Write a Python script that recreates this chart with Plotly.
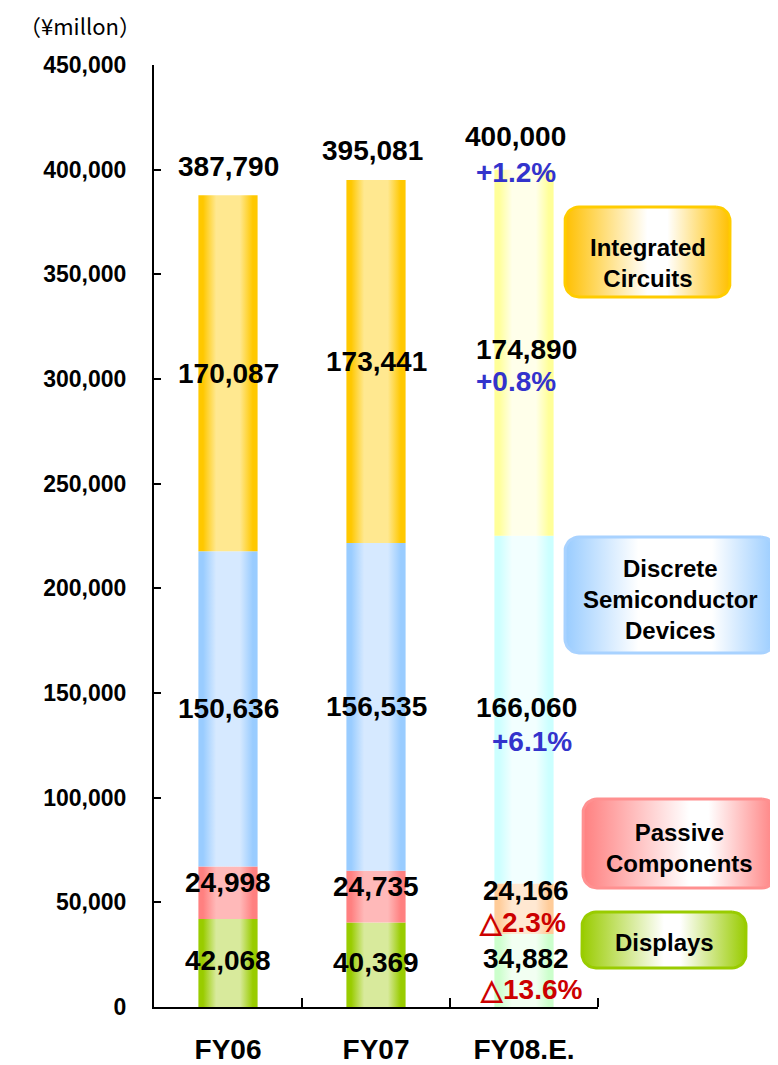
import numpy as np
import plotly.graph_objects as go

categories = ["FY06", "FY07", "FY08.E."]
segments = ["Displays", "Passive Components", "Discrete Semiconductor Devices", "Integrated Circuits"]
displays = [42068, 40369, 34882]
passive = [24998, 24735, 24166]
discrete = [150636, 156535, 166060]
integrated = [170087, 173441, 174890]
totals = [387790, 395081, 400000]
y_ticks = [0, 50000, 100000, 150000, 200000, 250000, 300000, 350000, 400000, 450000]
unit_label = "（¥millon）"

series = [displays, passive, discrete, integrated]

# gradient colors (edge, mid) for actual years and for the estimate
actual_cols = [("#99CC00", "#D8EA9C"), ("#FF8080", "#FFB9B9"), ("#99CCFF", "#D6E9FF"), ("#FFC800", "#FFE890")]
est_cols = [("#CCFFCC", "#F2FFF2"), ("#FFCC99", "#FFE8D2"), ("#CCFFFF", "#F2FFFF"), ("#FFFF99", "#FFFFEA")]


def cscale(edge, mid):
    return [[0, edge], [0.08, edge], [0.3, mid], [0.7, mid], [0.92, edge], [1, edge]]


# page body has an 8px margin: size the figure so it fits the 778x1065 window
OFF = 8
W, H = 778 - OFF, 1065 - OFF

fig = go.Figure()
half = 0.2
base = [0, 0, 0]
for s_idx, vals in enumerate(series):
    for i, v in enumerate(vals):
        edge, mid = (est_cols if i == 2 else actual_cols)[s_idx]
        b = base[i]
        xs = [i - half, i + half, i + half, i - half, i - half]
        ys = [b, b, b + v, b + v, b]
        fig.add_trace(go.Scatter(
            x=xs, y=ys, mode="lines", fill="toself", line=dict(width=0),
            fillgradient=dict(type="horizontal", colorscale=cscale(edge, mid)),
            hoverinfo="skip", showlegend=False, xaxis="x", yaxis="y"))
    base = [base[k] + vals[k] for k in range(3)]

val_font = dict(family="Liberation Sans, Arial", size=28, color="black", weight="bold")
blue_font = dict(family="Liberation Sans, Arial", size=28, color="#3333CC", weight="bold")
red_font = dict(family="Liberation Sans, Arial", size=28, color="#CC0000", weight="bold")

# segment labels
seg_shift_actual = [2, 10, 0, 0]
seg_shift_est = [12, 18, 2, 3]
pct_shift_est = [-19, -14, -32, -29]
pct_x_est = [7, -2, 8, -8]
base = [0, 0, 0]
for s_idx, vals in enumerate(series):
    for i, v in enumerate(vals):
        mid_y = base[i] + v / 2
        if i < 2:
            fig.add_annotation(x=i, y=mid_y, xref="x", yref="y", text=f"{v:,}", showarrow=False,
                               font=val_font, yshift=seg_shift_actual[s_idx])
        else:
            fig.add_annotation(x=i, y=mid_y, xref="x", yref="y", text=f"{v:,}", showarrow=False,
                               font=val_font, yshift=seg_shift_est[s_idx], xshift=2, borderpad=0)
            chg = (v / vals[1] - 1) * 100
            txt = f"+{chg:.1f}%" if chg >= 0 else f"△{abs(chg):.1f}%"
            fig.add_annotation(x=i, y=mid_y, xref="x", yref="y", text=txt, showarrow=False,
                               font=blue_font if chg >= 0 else red_font, borderpad=0,
                               yshift=pct_shift_est[s_idx], xshift=pct_x_est[s_idx])
    base = [base[k] + vals[k] for k in range(3)]

# totals
for i, t in enumerate(totals):
    fig.add_annotation(x=i, y=t, xref="x", yref="y", text=f"{t:,}", showarrow=False,
                       font=val_font, yshift=29 if i < 2 else 33, xshift=[0, -4, -9][i])
chg = (totals[2] / totals[1] - 1) * 100
fig.add_annotation(x=2, y=totals[2], xref="x", yref="y", text=f"+{chg:.1f}%", showarrow=False,
                   font=blue_font, yshift=-3, xshift=-8)


# legend-like rounded boxes (window-pixel coordinates on an overlay axis)
def rounded(x0, y0, x1, y1, r):
    pts_x, pts_y = [], []
    corners = [(x1 - r, y0 + r, -90, 0), (x1 - r, y1 - r, 0, 90), (x0 + r, y1 - r, 90, 180), (x0 + r, y0 + r, 180, 270)]
    for cx, cy, a0, a1 in corners:
        t = np.radians(np.linspace(a0, a1, 10))
        pts_x += list(cx + r * np.cos(t))
        pts_y += list(cy + r * np.sin(t))
    pts_x.append(pts_x[0]); pts_y.append(pts_y[0])
    return pts_x, pts_y


boxes = [
    ("Integrated<br>Circuits", (565, 207, 730, 297), "#FFCC00", [[0, "#FFC000"], [0.5, "#FFFFFF"], [0.62, "#FFFFFF"], [1, "#FFC000"]], 263),
    ("Discrete<br>Semiconductor<br>Devices", (565, 537, 775, 653), "#A8D2FF", [[0, "#99CCFF"], [0.35, "#FFFFFF"], [0.7, "#FFFFFF"], [1, "#99CCFF"]], 599),
    ("Passive<br>Components", (583, 799, 776, 888), "#FF9090", [[0, "#FF8080"], [0.55, "#FFFFFF"], [0.65, "#FFFFFF"], [1, "#FF8080"]], 848),
    ("Displays", (582, 912, 746, 968), "#99CC00", [[0, "#99CC00"], [0.5, "#FFFFFF"], [0.6, "#FFFFFF"], [1, "#99CC00"]], 942),
]
box_font = dict(family="Liberation Sans, Arial", size=24, color="black", weight="bold")
for txt, (x0, y0, x1, y1), line_c, cs, ty in boxes:
    bx, by = rounded(x0, y0, x1, y1, 14)
    fig.add_trace(go.Scatter(x=bx, y=by, mode="lines", fill="toself",
                             line=dict(color=line_c, width=3),
                             fillgradient=dict(type="horizontal", colorscale=cs),
                             hoverinfo="skip", showlegend=False, xaxis="x2", yaxis="y2"))
    fig.add_annotation(x=(x0 + x1) / 2, y=ty, xref="x2", yref="y2", text=txt, showarrow=False,
                       font=box_font)

fig.add_annotation(x=80, y=25, xref="x2", yref="y2", text=unit_label, showarrow=False,
                   font=dict(family="Noto Sans CJK JP", size=22, color="black"))

# plot area in window pixels: x 154..598, y 65 (450,000) .. 1007 (0)
fig.update_layout(
    width=W, height=H,
    margin=dict(l=0, r=0, t=0, b=0, autoexpand=False),
    paper_bgcolor="white", plot_bgcolor="rgba(0,0,0,0)",
    xaxis=dict(domain=[(154 - OFF) / W, (598 - OFF) / W], range=[-0.5, 2.5], anchor="y", automargin=False,
               tickmode="array", tickvals=[0, 1, 2], ticktext=categories, ticks="",
               showline=True, linecolor="black", linewidth=2, showgrid=False, zeroline=False,
               tickfont=dict(family="Liberation Sans, Arial", size=28, color="black", weight="bold"),
               ticklabelstandoff=16,
               minor=dict(tickmode="array", tickvals=[0.5, 1.5, 2.5], ticks="inside", ticklen=9,
                          tickwidth=2, tickcolor="black", showgrid=False)),
    yaxis=dict(domain=[(1065 - 1007) / H, (1065 - 65) / H], range=[0, 450000], anchor="x", automargin=False,
               tickmode="array", tickvals=y_ticks, tickformat=",",
               ticks="inside", ticklen=7, tickwidth=2, tickcolor="black",
               showline=True, linecolor="black", linewidth=2, showgrid=False, zeroline=False,
               tickfont=dict(family="Liberation Sans, Arial", size=23, color="black", weight="bold"),
               ticklabelstandoff=21),
    xaxis2=dict(domain=[0, 1], range=[OFF, 778], anchor="y2", visible=False, fixedrange=True, automargin=False),
    yaxis2=dict(domain=[0, 1], range=[1065, OFF], anchor="x2", visible=False, fixedrange=True, automargin=False),
)

fig.write_html("out.html")
